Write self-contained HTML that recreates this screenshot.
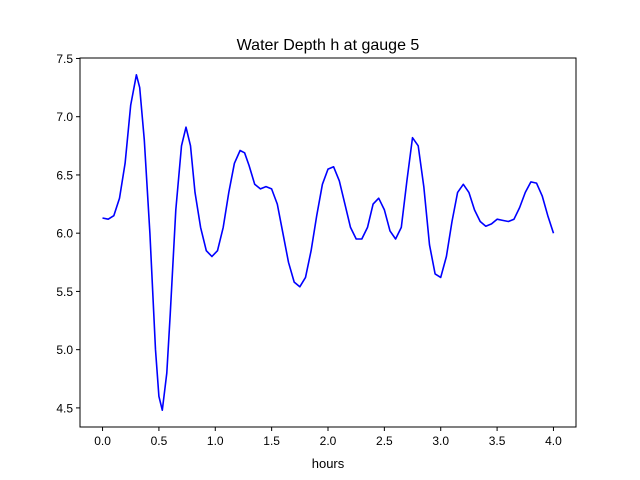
<!DOCTYPE html>
<html><head><meta charset="utf-8"><style>
body{margin:0;background:#fff;}
svg{display:block;font-family:"Liberation Sans","DejaVu Sans",sans-serif;}
</style></head><body>
<svg id="chart" width="640" height="480" xmlns="http://www.w3.org/2000/svg">
<rect width="640" height="480" fill="#fff"/>
<text x="328" y="50" font-size="16" text-anchor="middle">Water Depth h at gauge 5</text>
<g id="ticks"></g>
<polyline id="line" fill="none" stroke="#0000ff" stroke-width="1.6" stroke-linejoin="round"/>
<rect x="80" y="58" width="496" height="369" fill="none" stroke="#000" stroke-width="1"/>
<text x="328" y="468" font-size="13" text-anchor="middle">hours</text>
</svg>
<script>
const times = [0,0.05,0.1,0.15,0.2,0.25,0.3,0.33,0.37,0.42,0.47,0.5,0.53,0.57,0.6,0.65,0.7,0.74,0.78,0.82,0.87,0.92,0.97,1.02,1.07,1.12,1.17,1.22,1.26,1.3,1.35,1.4,1.45,1.5,1.55,1.6,1.65,1.7,1.75,1.8,1.85,1.9,1.95,2.0,2.05,2.1,2.15,2.2,2.25,2.3,2.35,2.4,2.45,2.5,2.55,2.6,2.65,2.7,2.75,2.8,2.85,2.9,2.95,3.0,3.05,3.1,3.15,3.2,3.25,3.3,3.35,3.4,3.45,3.5,3.55,3.6,3.65,3.7,3.75,3.8,3.85,3.9,3.95,4.0];
const depths = [6.13,6.12,6.15,6.3,6.6,7.1,7.36,7.25,6.8,6.0,5.0,4.6,4.48,4.8,5.3,6.2,6.75,6.91,6.75,6.35,6.05,5.85,5.8,5.85,6.05,6.35,6.6,6.71,6.69,6.58,6.42,6.38,6.4,6.38,6.25,6.0,5.75,5.58,5.54,5.62,5.85,6.15,6.42,6.55,6.57,6.45,6.25,6.05,5.95,5.95,6.05,6.25,6.3,6.2,6.02,5.95,6.05,6.45,6.82,6.75,6.4,5.9,5.65,5.62,5.8,6.1,6.35,6.42,6.35,6.2,6.1,6.06,6.08,6.12,6.11,6.1,6.12,6.22,6.35,6.44,6.43,6.32,6.15,6.0];
const xTicks = ["0.0","0.5","1.0","1.5","2.0","2.5","3.0","3.5","4.0"];
const yTicks = ["4.5","5.0","5.5","6.0","6.5","7.0","7.5"];
const X0=80,X1=576,Y0=427,Y1=58, XMIN=-0.2,XMAX=4.2, YMIN=4.336,YMAX=7.504;
const xs=v=>X0+(v-XMIN)/(XMAX-XMIN)*(X1-X0);
const ys=v=>Y0-(v-YMIN)/(YMAX-YMIN)*(Y0-Y1);
const NS="http://www.w3.org/2000/svg";
const g=document.getElementById('ticks');
function mk(tag,attrs){const e=document.createElementNS(NS,tag);for(const k in attrs)e.setAttribute(k,attrs[k]);g.appendChild(e);return e;}
xTicks.forEach(t=>{const x=xs(parseFloat(t));
 const l=mk('line',{x1:x,x2:x,y1:Y0,y2:Y0+4,stroke:'#000'});
 
 
 const tx=mk('text',{x:x,y:Y0+18,'font-size':12,'text-anchor':'middle'});tx.textContent=t;
 
 
});
yTicks.forEach(t=>{const y=ys(parseFloat(t));
 const l=mk('line',{x1:X0-4,x2:X0,y1:y,y2:y,stroke:'#000'});
 
 
 const tx=mk('text',{x:X0-7,y:y+4.5,'font-size':12,'text-anchor':'end'});tx.textContent=t;
 
 
});
document.getElementById('line').setAttribute('points',times.map((t,i)=>xs(t).toFixed(1)+','+ys(depths[i]).toFixed(1)).join(' '));
</script>
</body></html>
